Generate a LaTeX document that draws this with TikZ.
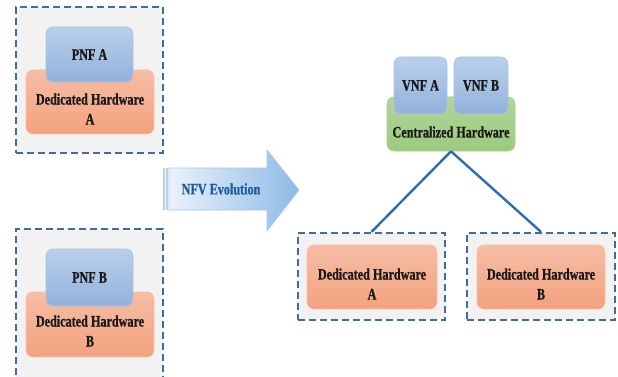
\documentclass[tikz,border=0pt]{standalone}
\usepackage{fontspec}
\setmainfont{Liberation Serif}[FakeStretch=0.76,BoldFeatures={FakeBold=0.8}]
\usetikzlibrary{shadings}
\definecolor{dashblue}{HTML}{3F6E9E}
\definecolor{contfill}{HTML}{F2F2F2}
\definecolor{hwtop}{HTML}{F6BDA5}
\definecolor{hwbot}{HTML}{F3A27F}
\definecolor{hwdraw}{HTML}{F5C0A8}
\definecolor{vtop}{HTML}{B9D0EC}
\definecolor{vbot}{HTML}{92B1DA}
\definecolor{vdraw}{HTML}{A9C3E4}
\definecolor{gtop}{HTML}{B0D698}
\definecolor{gbot}{HTML}{9CC97F}
\definecolor{gdraw}{HTML}{A8CF90}
\definecolor{linkblue}{HTML}{2F6DB0}
\definecolor{arrL}{HTML}{EAF2FB}
\definecolor{arrR}{HTML}{8EBAE6}
\definecolor{arrtxt}{HTML}{1F5C9E}
\begin{document}
\begin{tikzpicture}[x=1pt,y=-1pt,
  container/.style={draw=dashblue,fill=contfill,line width=2.2pt,dash pattern=on 7pt off 4pt,inner sep=0pt},
  boxbase/.style={line width=0.6pt,rounded corners=7pt,inner sep=0pt},
  hw/.style={boxbase,draw=hwdraw,top color=hwtop,bottom color=hwbot},
  vnf/.style={boxbase,draw=vdraw,top color=vtop,bottom color=vbot,align=center,font=\bfseries\fontsize{16}{19}\selectfont,text=black!90},
  central/.style={boxbase,draw=gdraw,top color=gtop,bottom color=gbot},
  lbl/.style={align=center,inner sep=0pt,font=\bfseries\fontsize{16}{20}\selectfont,text=black!90},
  link/.style={draw=linkblue,line width=2.4pt}]
\useasboundingbox (0,0) rectangle (618,377);
\fill[white] (0,0) rectangle (618,377);
% left top
\node[container,minimum width=147pt,minimum height=146pt] (contA) at (89.5,80) {};
\node[hw,minimum width=128pt,minimum height=64pt] (dhA) at (90,102) {};
\node[vnf,minimum width=87pt,minimum height=55pt] (pnfA) at (89.5,54.5) {PNF A};
\node[lbl] (dhAt) at (90,109) {Dedicated Hardware\\A};
% left bottom
\node[container,minimum width=147pt,minimum height=150pt] (contB) at (89.5,304) {};
\node[hw,minimum width=128pt,minimum height=65pt] (dhB) at (90,324.5) {};
\node[vnf,minimum width=87pt,minimum height=57pt] (pnfB) at (89.5,277.5) {PNF B};
\node[lbl] (dhBt) at (90,331) {Dedicated Hardware\\B};
% arrow
\fill[vtop] (163,168) rectangle (164.6,210);
\fill[vtop] (166,168) rectangle (167.6,210);
\shade[left color=arrL,right color=arrR,draw=arrR!80,line width=0.6pt]
  (169,168) -- (267,168) -- (267,150) -- (299,190) -- (267,231) -- (267,210) -- (169,210) -- cycle;
\node[inner sep=0pt,font=\bfseries\fontsize{16}{19}\selectfont,text=arrtxt] (evo) at (221,189) {NFV Evolution};
% centralized
\node[central,minimum width=128pt,minimum height=54pt] (cent) at (451,124) {};
\node[lbl] (centt) at (451,132) {Centralized Hardware};
\node[vnf,minimum width=53pt,minimum height=57pt] (vnfA) at (420.5,85.5) {VNF A};
\node[vnf,minimum width=54pt,minimum height=57pt] (vnfB) at (481,85.5) {VNF B};
% right bottom
\node[container,minimum width=147pt,minimum height=87pt] (boxA) at (371.5,276.5) {};
\node[hw,minimum width=130pt,minimum height=64pt] (rdhA) at (372,277) {};
\node[lbl] (rdhAt) at (372,284) {Dedicated Hardware\\A};
\node[container,minimum width=148pt,minimum height=87pt] (boxB) at (541,276.5) {};
\node[hw,minimum width=128pt,minimum height=64pt] (rdhB) at (541,277) {};
\node[lbl] (rdhBt) at (541,284) {Dedicated Hardware\\B};
% links
\draw[link] (cent.south) -- (boxA.north);
\draw[link] (cent.south) -- (boxB.north);
\end{tikzpicture}
\end{document}
